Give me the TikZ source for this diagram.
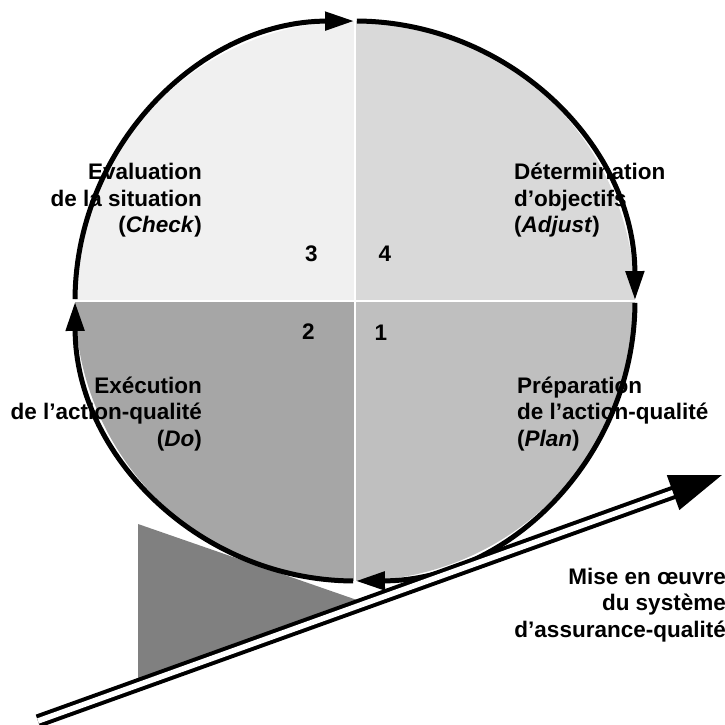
\documentclass[tikz,border=0pt]{standalone}
\usepackage{fontspec}
\setmainfont{Liberation Sans}
\usetikzlibrary{calc,arrows.meta}
\definecolor{qcheck}{gray}{0.94}
\definecolor{qadjust}{gray}{0.85}
\definecolor{qplan}{gray}{0.75}
\definecolor{qdo}{gray}{0.65}
\definecolor{wedge}{gray}{0.5}

\begin{document}
\begin{tikzpicture}[x=1pt, y=1pt,
        every node/.style={font=\fontsize{22.5}{26.5}\selectfont\bfseries, inner sep=0pt},
        cyc/.style={line width=5pt, -{Triangle[length=29pt, width=18pt]}},
        ramp/.style={double, line width=4pt, double distance=5.5pt,
            -{Triangle[length=52pt, width=36pt]}}]
        \useasboundingbox (0,0) rectangle (725,724);

        % Points
        \coordinate (O) at (355,423);   % centre of the wheel
        \def\R{280}
        \coordinate (rampstart) at (38,3);
        \coordinate (ramptip) at (722,249);

        % Wedge under the wheel
        \fill[wedge] (138,200) -- (138,44) -- (357,124) -- cycle;

        % Quarters
        \fill[qcheck] (O) -- ++(180:\R) arc[start angle=180, end angle=90, radius=\R] -- cycle;
        \fill[qadjust] (O) -- ++(90:\R) arc[start angle=90, end angle=0, radius=\R] -- cycle;
        \fill[qplan] (O) -- ++(0:\R) arc[start angle=0, end angle=-90, radius=\R] -- cycle;
        \fill[qdo] (O) -- ++(-90:\R) arc[start angle=-90, end angle=-180, radius=\R] -- cycle;
        \draw[white, line width=2pt] ($(O)+(-\R,0)$) -- ($(O)+(\R,0)$);
        \draw[white, line width=2pt] ($(O)+(0,-\R)$) -- ($(O)+(0,\R)$);

        % Labels (base = last line)
        \node[anchor=base east, align=right] (check) at (202,491)
            {Evaluation\\de la situation\\(\textit{Check})};
        \node[anchor=base west, align=left] (adjust) at (514,491)
            {Détermination\\d’objectifs\\(\textit{Adjust})};
        \node[anchor=base east, align=right] (do) at (202,278)
            {Exécution\\de l’action-qualité\\(\textit{Do})};
        \node[anchor=base west, align=left] (plan) at (517,278)
            {Préparation\\de l’action-qualité\\(\textit{Plan})};
        \node[anchor=base] (n3) at (311.5,462) {3};
        \node[anchor=base] (n4) at (385,462) {4};
        \node[anchor=base] (n2) at (308.5,385) {2};
        \node[anchor=base] (n1) at (381,384) {1};

        % Arrows round the wheel
        \draw[cyc] (O) ++(179.6:\R) arc[start angle=179.6, end angle=90.2, radius=\R];
        \draw[cyc] (O) ++(89.6:\R) arc[start angle=89.6, end angle=0.2, radius=\R];
        \draw[cyc] (O) ++(-0.4:\R) arc[start angle=-0.4, end angle=-89.8, radius=\R];
        \draw[cyc] (O) ++(-90.4:\R) arc[start angle=-90.4, end angle=-179.8, radius=\R];

        % Ramp
        \draw[ramp] (rampstart) -- (ramptip);
        \node[anchor=base east, align=right] (mise) at (726,87)
            {Mise en œuvre\\du système\\d’assurance-qualité};
    \end{tikzpicture}
\end{document}
